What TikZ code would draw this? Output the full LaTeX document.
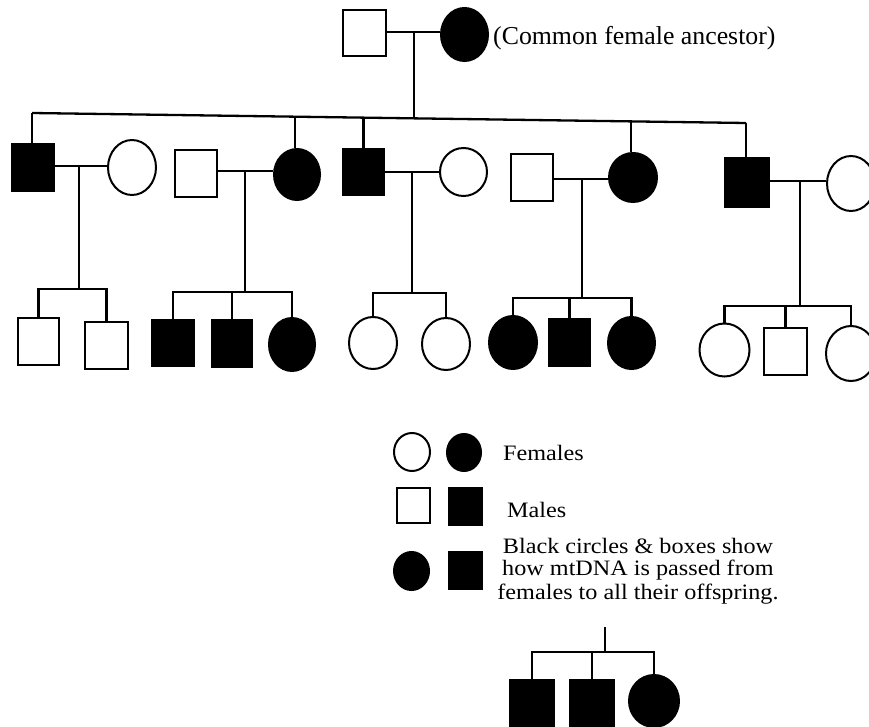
\documentclass[tikz,border=0pt]{standalone}
\usepackage{fontspec}
\setmainfont{Liberation Serif}[FakeStretch=1.1]
\newfontfamily\topserif{Liberation Serif}
\usetikzlibrary{shapes.geometric}
\tikzset{
 ln/.style={line width=2.3pt},
 sqw/.style 2 args={rectangle,draw=black,fill=white,line width=2pt,inner sep=0pt,minimum width={#1pt-2pt},minimum height={#2pt-2pt}},
 sqb/.style 2 args={sqw={#1}{#2},fill=black},
 ciw/.style 2 args={ellipse,draw=black,fill=white,line width=2pt,inner sep=0pt,minimum width={#1pt-2pt},minimum height={#2pt-2pt}},
 cib/.style 2 args={ciw={#1}{#2},fill=black},
 lbl/.style={inner sep=0pt,font=\fontsize{22}{19.5}\selectfont},
}
\begin{document}
\begin{tikzpicture}[x=1pt,y=-1pt]
\useasboundingbox (0,0) rectangle (869,727);
\clip (0,0) rectangle (869,727);
% generation 1
\node[sqw={45}{48}] (t0) at (364.5,33) {};
\node[cib={49}{55}] (t1) at (464.5,34.5) {};
\node[inner sep=0pt,anchor=west,font=\topserif\fontsize{25.8}{25}\selectfont] (lab) at (493,38.5) {(Common female ancestor)};
% generation 2
\node[sqb={44}{49}] (A1) at (33,167.5) {};
\node[ciw={50}{57}] (A2) at (132,167.5) {};
\node[sqw={44}{49}] (B1) at (196,173.5) {};
\node[cib={48}{53}] (B2) at (297,174.5) {};
\node[sqb={43}{48}] (C1) at (363.5,172) {};
\node[ciw={49}{50}] (C2) at (463.5,172) {};
\node[sqw={44}{49}] (D1) at (532,177.5) {};
\node[cib={50}{51}] (D2) at (633,177.5) {};
\node[sqb={46}{51}] (E1) at (746.5,182.5) {};
\node[ciw={50}{57}] (E2) at (851,183.5) {};
% generation 3
\node[sqw={43}{49}] (a1) at (38.5,341.5) {};
\node[sqw={45}{49}] (a2) at (106.5,345.5) {};
\node[sqb={44}{48}] (b1) at (173,343) {};
\node[sqb={42}{49}] (b2) at (232,343.5) {};
\node[cib={48}{55}] (b3) at (292,344.5) {};
\node[ciw={50}{54}] (c1) at (373,343) {};
\node[ciw={50}{54}] (c2) at (446,344) {};
\node[cib={50}{55}] (d1) at (513,342.5) {};
\node[sqb={43}{49}] (d2) at (569.5,342.5) {};
\node[cib={49}{54}] (d3) at (631.5,343) {};
\node[ciw={52}{55}] (e1) at (724.5,350) {};
\node[sqw={45}{49}] (e2) at (785.5,351.5) {};
\node[ciw={52}{57}] (e3) at (851,353.5) {};
% legend
\node[ciw={38}{40}] (L1) at (412,452) {};
\node[cib={36}{39}] (L2) at (464,452.5) {};
\node[sqw={35}{37}] (L3) at (413.5,505.5) {};
\node[sqb={35}{39}] (L4) at (465.5,506.5) {};
\node[cib={37}{40}] (L5) at (411.5,571) {};
\node[sqb={35}{39}] (L6) at (465.5,570.5) {};
\node[lbl,anchor=west] (tf) at (503,453.2) {Females};
\node[lbl,anchor=west] (tm) at (507,509.5) {Males};
\node[lbl,align=center] (tb) at (638,571.4) {Black circles \& boxes show\\[2.5pt]how mtDNA is passed from\\[2.5pt]females to all their offspring.};
% bottom example
\node[sqb={46}{48}] (x1) at (532,703) {};
\node[sqb={46}{48}] (x2) at (592,703) {};
\node[cib={52}{54}] (x3) at (654,701) {};
% connectors generation 1
\coordinate (m0) at (414,32);
\coordinate (s0) at (414,117.8);
\draw[ln] (t0.east |- m0) -- (t1.west |- m0);
\draw[ln] (m0) -- (s0);
\coordinate (gL) at (32,113);
\coordinate (gR) at (746,123);
\coordinate (gB) at (295,116.4);
\coordinate (gC) at (363.5,117.4);
\coordinate (gD) at (631,120.6);
\draw[ln] (gL) -- (gR);
\draw[ln] (gL) -- (gL |- A1.north);
\draw[ln] (gB) -- (gB |- B2.north);
\draw[ln] (gC) -- (C1.north);
\draw[ln] (gD) -- (gD |- D2.north);
\draw[ln] (gR) -- (gR |- E1.north);
% family A
\coordinate (mA) at (79,166); \coordinate (sA) at (79,289);
\draw[ln] (A1.east |- mA) -- (A2.west |- mA);
\draw[ln] (mA) -- (sA);
\draw[ln] (a1.north) |- (sA) -| (a2.north);
% family B
\coordinate (mB) at (245,171); \coordinate (sB) at (245,292);
\draw[ln] (B1.east |- mB) -- (B2.west |- mB);
\draw[ln] (mB) -- (sB);
\draw[ln] (b1.north) |- (sB) -| (b3.north);
\draw[ln] (b2.north) -- (b2.north |- sB);
% family C
\coordinate (mC) at (412,172); \coordinate (sC) at (412,293);
\draw[ln] (C1.east |- mC) -- (C2.west |- mC);
\draw[ln] (mC) -- (sC);
\draw[ln] (c1.north) |- (sC) -| (c2.north);
% family D
\coordinate (mD) at (582,179); \coordinate (sD) at (582,298);
\draw[ln] (D1.east |- mD) -- (D2.west |- mD);
\draw[ln] (mD) -- (sD);
\draw[ln] (d1.north) |- (sD) -| (d3.north);
\draw[ln] (d2.north) -- (d2.north |- sD);
% family E
\coordinate (mE) at (800,181); \coordinate (sE) at (800,306);
\draw[ln] (E1.east |- mE) -- (E2.west |- mE);
\draw[ln] (mE) -- (sE);
\draw[ln] (e1.north) |- (sE) -| (e3.north);
\draw[ln] (e2.north) -- (e2.north |- sE);
% bottom example
\coordinate (tT) at (605,627); \coordinate (tS) at (605,652);
\draw[ln] (tT) -- (tS);
\draw[ln] (x1.north) |- (tS) -| (x3.north);
\draw[ln] (x2.north) -- (x2.north |- tS);
\end{tikzpicture}
\end{document}
